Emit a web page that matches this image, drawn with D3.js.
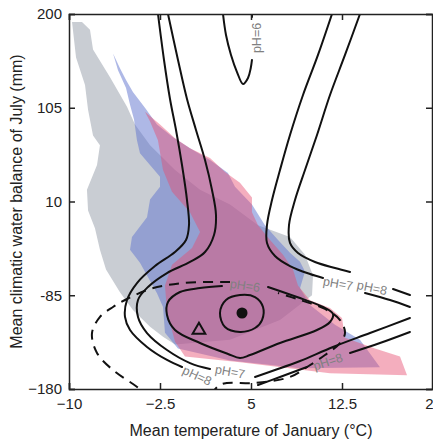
<!DOCTYPE html>
<html><head><meta charset="utf-8">
<script src="https://cdn.jsdelivr.net/npm/d3@7"></script>
<style>
body{margin:0;background:#fff;}
svg{display:block;font-family:"Liberation Sans",Arial,sans-serif;}
</style></head>
<body><div id="chart"></div>
<script>
// ---- axis ticks ----
const xTicks = [-10, -2.5, 5, 12.5, 20];
const xTickLabels = ["\u221210", "\u22122.5", "5", "12.5", "20"];
const yTicks = [200, 105, 10, -85, -180];
const yTickLabels = ["200", "105", "10", "-85", "\u2212180"];

// ---- occupied climate spaces [Tjan, CWB_July] ----
const greyRegion = [[-9.75,192],[-8.93,192],[-8.27,184],[-8.02,164],[-6.62,136],[-5.22,106],[-4.56,88],[-3.32,67],[-1.26,42],[0.80,22],[3.27,7],[5.58,-14],[8.21,-26],[9.45,-44],[10.11,-65],[10.03,-85],[7.39,-110],[3.27,-130],[-1.26,-135],[-2.25,-127],[-3.32,-117],[-4.73,-100],[-5.80,-82],[-6.95,-59],[-7.45,-39],[-7.86,-17],[-8.43,1],[-8.52,22],[-7.69,47],[-7.45,67],[-8.02,77],[-8.43,103],[-8.68,128],[-9.42,156]];
const blueRegion = [[-6.37,160],[-5.80,145],[-5.30,133],[-4.73,121],[-3.74,105],[-2.75,88],[-1.43,75],[-0.03,64],[1.62,52],[3.10,39],[3.68,25],[5.08,7],[6.15,-14],[7.23,-29],[8.21,-42],[9.04,-51],[9.45,-61],[9.04,-78],[9.86,-95],[11.92,-115],[13.98,-130],[15.63,-158],[9.04,-159],[3.27,-151],[-1.02,-139],[-2.09,-123],[-2.25,-97],[-2.75,-83],[-4.15,-52],[-4.97,-39],[-4.81,-26],[-3.57,-6],[-3.32,12],[-2.50,25],[-2.50,35],[-4.15,59],[-4.40,72],[-4.64,93],[-4.97,108],[-5.30,125],[-5.96,143]];
const pinkRegion = [[-3.74,101],[-2.50,88],[-1.26,74],[-0.03,64],[1.62,54],[2.86,40],[4.09,29],[5.08,14],[5.08,-1],[5.58,-14],[6.57,-29],[7.64,-44],[8.46,-59],[8.87,-75],[9.86,-90],[11.51,-98],[12.50,-108],[12.75,-128],[15.22,-139],[17.28,-147],[17.86,-166],[11.51,-164],[4.09,-153],[-0.44,-147],[-1.26,-132],[-1.92,-102],[-2.09,-75],[-1.51,-54],[0.14,-37],[0.80,-21],[-0.03,-1],[-1.51,20],[-2.25,42],[-2.67,72],[-3.32,91]];

// ---- fitted pH contour lines (each entry = list of segments) ----
const ph8Outer = [
  [[-2.665,200],[-2.17,153.4],[-1.676,113.9],[-1.18,82.5],[-0.687,47],[-0.275,11.5],[-0.11,-13.8],[-0.357,-29],[-1.264,-41.2],[-2.912,-55.4],[-4.396,-72.6],[-5.22,-89.8],[-5.385,-107],[-4.97,-120.2],[-3.57,-137.4],[-1.923,-150.6],[-0.687,-157.7]],
  [[5.577,-176],[7.39,-167.8],[9.615,-157.7]],
  [[13.159,-143.5],[15.63,-133.4],[18.10,-122.2]]
];
const ph7Inner = [
  [[-1.841,200],[-1.017,153.4],[-0.275,113.9],[0.467,82.5],[1.209,52],[1.786,21.7],[2.115,-3.7],[1.951,-23.9],[1.209,-41.2],[-0.027,-51.3],[-1.923,-62.5],[-3.489,-76.6],[-4.313,-89.8],[-4.313,-107],[-3.57,-123.3],[-1.923,-140.5],[-0.027,-153.7],[1.62,-159.7]],
  [[5.33,-167.8],[6.978,-160.8],[9.04,-151.6],[11.758,-137.4],[14.808,-123.3],[18.10,-108]]
];
const ph7Right = [
  [[11.676,200],[10.522,158.5],[9.286,117.9],[8.214,77.4],[7.39,41.9],[6.731,11.5],[6.319,-13.8],[6.319,-32],[6.978,-45.2],[8.214,-55.4],[9.863,-63.5],[10.934,-67.5]],
  [[14.396,-82.7],[16.456,-89.8],[18.10,-96.9]]
];
const ph8Right = [
  [[13.983,200],[12.747,158.5],[11.511,117.9],[10.44,77.4],[9.45,41.9],[8.626,11.5],[8.132,-13.8],[8.214,-32],[8.874,-42.2],[10.275,-51.3],[11.923,-57.4],[13.159,-61.4]],
  [[16.703,-78.7],[18.10,-84.8]]
];
const ph6Top = [
  [[2.692,200],[2.939,178.7],[3.352,158.5],[3.846,141.2],[4.341,129.1],[4.753,135.2],[4.98,145.3],[5.08,153.4]],
  [[5.08,197],[5.08,200]]
];
const ph6Inner = [
  [[6.401,-76.6],[8.791,-86.8],[10.934,-96.9],[11.758,-104],[11.511,-112.1],[10.44,-120.2],[7.39,-133.4],[4.918,-145.6],[4.093,-148.6],[3.104,-144.5],[0.797,-133.4],[-1.264,-120.2],[-1.923,-105],[-1.841,-91.8],[-0.851,-81.7],[0.797,-77.7],[2.61,-75.6]]
];
const optimumLoop = [[2.445,-103],[2.939,-89.8],[4.093,-84.8],[5.33,-86.8],[5.989,-96.9],[5.907,-110.1],[5.33,-118.2],[4.093,-122.2],[2.857,-117.2]];
const dashedLine = [[3.27,-71.6],[-0.604,-72.6],[-3.324,-78.7],[-5.22,-88.8],[-6.374,-96.9],[-7.445,-107],[-8.105,-123.3],[-7.693,-143.5],[-6.374,-160.8],[-4.726,-174.9],[-3.324,-186.1],[-0.851,-191.2],[1.62,-184.1],[2.61,-174.9],[5.33,-173.9],[8.214,-167.8],[9.615,-157.7],[11.099,-145.6],[12.335,-133.4],[12.747,-123.3],[12.335,-110.1],[11.099,-98.9],[9.04,-89.8],[7.225,-82.7]];
const optimumPoint = [4.26, -103];
const trianglePoint = [0.71, -120.2];
const contourLabels = [
  {text:"pH=6", t:5.49, w:175.7, angle:-90},
  {text:"pH=6", t:4.506, w:-75.6, angle:8},
  {text:"pH=7", t:12.17, w:-73.6, angle:10},
  {text:"pH=8", t:14.97, w:-77.7, angle:12},
  {text:"pH=8", t:0.55, w:-166.8, angle:25},
  {text:"pH=7", t:3.27, w:-162.8, angle:10},
  {text:"pH=8", t:11.35, w:-152.6, angle:-18}
];

const W = 433, H = 442;
const margin = {left:69, top:14, right:0, bottom:53};
const svg = d3.select("#chart").append("svg").attr("width", W).attr("height", H);

const x = d3.scaleLinear().domain([-10, 20]).range([margin.left, W - margin.right]);
const y = d3.scaleLinear().domain([-180, 200]).range([H - margin.bottom, margin.top]);

svg.append("defs").append("clipPath").attr("id","clip")
  .append("rect").attr("x", x(-10)).attr("y", y(200)).attr("width", x(20)-x(-10)).attr("height", y(-180)-y(200));

const plot = svg.append("g").attr("clip-path","url(#clip)");
const area = d3.line().x(d => x(d[0])).y(d => y(d[1])).curve(d3.curveLinearClosed);

plot.append("path").datum(greyRegion).attr("d", area).attr("fill", "#c9cdd3");
plot.append("path").datum(blueRegion).attr("d", area).attr("fill", "rgb(100,118,208)").attr("fill-opacity", 0.52);
plot.append("path").datum(pinkRegion).attr("d", area).attr("fill", "rgb(230,75,110)").attr("fill-opacity", 0.45);

const line = d3.line().x(d => x(d[0])).y(d => y(d[1])).curve(d3.curveCatmullRom.alpha(0.5));
const lineClosed = d3.line().x(d => x(d[0])).y(d => y(d[1])).curve(d3.curveCatmullRomClosed.alpha(0.5));

[ph8Outer, ph7Inner, ph7Right, ph8Right, ph6Top, ph6Inner].forEach(segs => {
  segs.forEach(seg => {
    plot.append("path").datum(seg).attr("d", line)
      .attr("fill","none").attr("stroke","#111").attr("stroke-width",2).attr("stroke-linecap","round");
  });
});
plot.append("path").datum(optimumLoop).attr("d", lineClosed)
  .attr("fill","none").attr("stroke","#111").attr("stroke-width",2);
plot.append("path").datum(dashedLine).attr("d", line)
  .attr("fill","none").attr("stroke","#111").attr("stroke-width",2).attr("stroke-dasharray","10,7");

plot.append("circle").attr("cx", x(optimumPoint[0])).attr("cy", y(optimumPoint[1])).attr("r", 5.5).attr("fill","#111");
plot.append("path").attr("transform", `translate(${x(trianglePoint[0])},${y(trianglePoint[1])})`)
  .attr("d", d3.symbol(d3.symbolTriangle, 70)).attr("fill","none").attr("stroke","#111").attr("stroke-width",2);

plot.selectAll("text.lab").data(contourLabels).join("text").attr("class","lab")
  .attr("transform", d => `translate(${x(d.t)},${y(d.w)}) rotate(${d.angle})`)
  .attr("text-anchor","middle").attr("dominant-baseline","central")
  .attr("font-size", 12.5).attr("fill","#808080").text(d => d.text);

// axes (ticks pointing inward on all four sides)
const axL = d3.axisLeft(y).tickValues(yTicks).tickSize(-6).tickPadding(7).tickFormat((d,i) => yTickLabels[i]);
const axR = d3.axisRight(y).tickValues(yTicks).tickSize(-6).tickFormat("");
const axB = d3.axisBottom(x).tickValues(xTicks).tickSize(-6).tickPadding(9).tickFormat((d,i) => xTickLabels[i]);
const axT = d3.axisTop(x).tickValues(xTicks).tickSize(-6).tickFormat("");

function style(g){
  g.select(".domain").attr("stroke","#222").attr("stroke-width",1.5);
  g.selectAll(".tick line").attr("stroke","#222").attr("stroke-width",1.5);
  g.selectAll(".tick text").attr("font-size",15).attr("fill","#222").attr("font-family","'Liberation Sans',Arial,sans-serif");
}
svg.append("g").attr("transform",`translate(${x(-10)},0)`).call(axL).call(style);
svg.append("g").attr("transform",`translate(${x(20)-1},0)`).call(axR).call(style);
svg.append("g").attr("transform",`translate(0,${y(-180)})`).call(axB).call(style);
svg.append("g").attr("transform",`translate(0,${y(200)})`).call(axT).call(style);

svg.append("text").attr("x", x(5)).attr("y", 436).attr("text-anchor","middle")
  .attr("font-size",16).attr("fill","#222").text("Mean temperature of January (°C)");
svg.append("text").attr("transform",`translate(22,${(y(200)+y(-180))/2}) rotate(-90)`).attr("text-anchor","middle")
  .attr("font-size",16).attr("fill","#222").text("Mean climatic water balance of July (mm)");
</script></body></html>
